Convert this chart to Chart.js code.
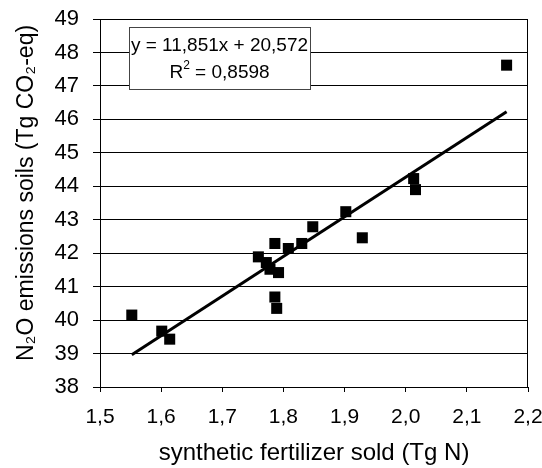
<!DOCTYPE html>
<html>
<head>
<meta charset="utf-8">
<script src="https://cdn.jsdelivr.net/npm/chart.js@4/dist/chart.umd.min.js"></script>
<style>
  html, body { margin: 0; padding: 0; background: #fff; }
  #wrap { width: 542px; height: 468px; }
</style>
</head>
<body>
<div id="wrap"><canvas id="scatterChart"></canvas></div>
<script>
// fertilizer sold (Tg N) vs N2O soil emissions (Tg CO2-eq)
var fertilizer = [1.552, 1.601, 1.614, 1.759, 1.772, 1.778, 1.786, 1.792, 1.786, 1.789, 1.808, 1.830, 1.848, 1.902, 1.929, 2.013, 2.016, 2.165];
var emissions = [40.15, 39.67, 39.43, 41.89, 41.72, 41.52, 42.29, 41.42, 40.69, 40.35, 42.14, 42.29, 42.79, 43.24, 42.46, 44.23, 43.90, 47.62];

// trendline as printed on the chart
var slope = 11.851;
var intercept = 20.572;
var r2 = 0.8598;

var xTicks = [1.5, 1.6, 1.7, 1.8, 1.9, 2.0, 2.1, 2.2];
var yTicks = [38, 39, 40, 41, 42, 43, 44, 45, 46, 47, 48, 49];

var yTitle = 'N\u2082O emissions soils (Tg CO\u2082-eq)';
var xTitle = 'synthetic fertilizer sold (Tg N)';

var fontFamily = "'Liberation Sans', Arial, sans-serif";

var points = fertilizer.map((x, i) => ({ x: x, y: emissions[i] }));
var xMin = Math.min.apply(null, fertilizer);
var xMax = Math.max.apply(null, fertilizer);
var trend = [
    { x: xMin, y: slope * xMin + intercept },
    { x: xMax, y: slope * xMax + intercept }
];

function comma(v, digits) {
    return v.toFixed(digits).replace('.', ',');
}

// border round the plot area, equation box, y title
var framePlugin = {
    id: 'frame',
    beforeDatasetsDraw: function (chart) {
        var a = chart.chartArea;
        var ctx = chart.ctx;
        ctx.save();
        ctx.strokeStyle = '#000';
        ctx.lineWidth = 1;
        ctx.strokeRect(Math.round(a.left) + 0.5, Math.round(a.top) + 0.5,
            Math.round(a.right - a.left) - 1, Math.round(a.bottom - a.top));
        ctx.restore();
    },
    afterDatasetsDraw: function (chart) {
        var a = chart.chartArea;
        var ctx = chart.ctx;
        var bx = a.left + 29, by = a.top + 8, bw = 181, bh = 62;
        ctx.save();
        ctx.fillStyle = '#fff';
        ctx.fillRect(bx, by, bw, bh);
        ctx.strokeStyle = '#444';
        ctx.lineWidth = 1;
        ctx.strokeRect(Math.round(bx) + 0.5, Math.round(by) + 0.5, bw, bh);

        ctx.fillStyle = '#000';
        ctx.textBaseline = 'alphabetic';
        ctx.font = '19px ' + fontFamily;
        ctx.textAlign = 'center';
        var cx = bx + bw / 2;
        ctx.fillText('y = ' + comma(slope, 3) + 'x + ' + comma(intercept, 3), cx, by + 24);

        var rest = ' = ' + comma(r2, 4);
        var wR = ctx.measureText('R').width;
        ctx.font = '12px ' + fontFamily;
        var w2 = ctx.measureText('2').width;
        ctx.font = '19px ' + fontFamily;
        var wRest = ctx.measureText(rest).width;
        var sx = cx - (wR + w2 + wRest) / 2;
        ctx.textAlign = 'left';
        ctx.fillText('R', sx, by + 51);
        ctx.font = '12px ' + fontFamily;
        ctx.fillText('2', sx + wR, by + 42);
        ctx.font = '19px ' + fontFamily;
        ctx.fillText(rest, sx + wR + w2, by + 51);
        ctx.restore();

        // y axis title, sits a little above the plot centre
        ctx.save();
        ctx.translate(33, 361);
        ctx.rotate(-Math.PI / 2);
        ctx.font = '23px ' + fontFamily;
        ctx.fillStyle = '#000';
        ctx.textAlign = 'left';
        ctx.textBaseline = 'alphabetic';
        ctx.fillText(yTitle, 0, 0);
        ctx.restore();
    }
};

new Chart(document.getElementById('scatterChart').getContext('2d'), {
    type: 'scatter',
    data: {
        datasets: [{
            label: 'trend',
            type: 'line',
            data: trend,
            borderColor: '#000',
            borderWidth: 3,
            pointRadius: 0,
            fill: false,
            order: 2
        }, {
            label: 'emissions',
            data: points,
            pointStyle: 'rect',
            pointRadius: 7.8,
            backgroundColor: '#000',
            borderWidth: 0,
            order: 1
        }]
    },
    options: {
        responsive: true,
        maintainAspectRatio: false,
        animation: false,
        layout: { padding: { top: 19, right: 14, left: 0, bottom: 0 } },
        plugins: {
            legend: { display: false },
            tooltip: { enabled: false }
        },
        scales: {
            x: {
                type: 'linear',
                min: 1.5,
                max: 2.2,
                afterBuildTicks: function (scale) {
                    scale.ticks = xTicks.map(v => ({ value: v }));
                },
                afterFit: function (scale) {
                    scale.height = 81;
                    scale.paddingLeft = 0;
                    scale.paddingRight = 0;
                },
                grid: { drawOnChartArea: false, drawTicks: true, tickLength: 5, color: '#000' },
                border: { color: '#000' },
                ticks: {
                    color: '#000',
                    padding: 13,
                    maxRotation: 0,
                    font: { family: fontFamily, size: 21 },
                    callback: function (v) { return comma(v, 1); }
                },
                title: {
                    display: true,
                    text: xTitle,
                    color: '#000',
                    padding: 0,
                    font: { family: fontFamily, size: 24 }
                }
            },
            y: {
                type: 'linear',
                min: 38,
                max: 49,
                afterBuildTicks: function (scale) {
                    scale.ticks = yTicks.map(v => ({ value: v }));
                },
                afterFit: function (scale) {
                    scale.width = 100;
                    scale.paddingTop = 0;
                    scale.paddingBottom = 0;
                },
                grid: { color: '#000', tickLength: 7 },
                border: { color: '#000' },
                ticks: {
                    color: '#000',
                    padding: 14,
                    font: { family: fontFamily, size: 22 }
                },
                title: { display: false }
            }
        }
    },
    plugins: [framePlugin]
});
</script>
</body>
</html>
